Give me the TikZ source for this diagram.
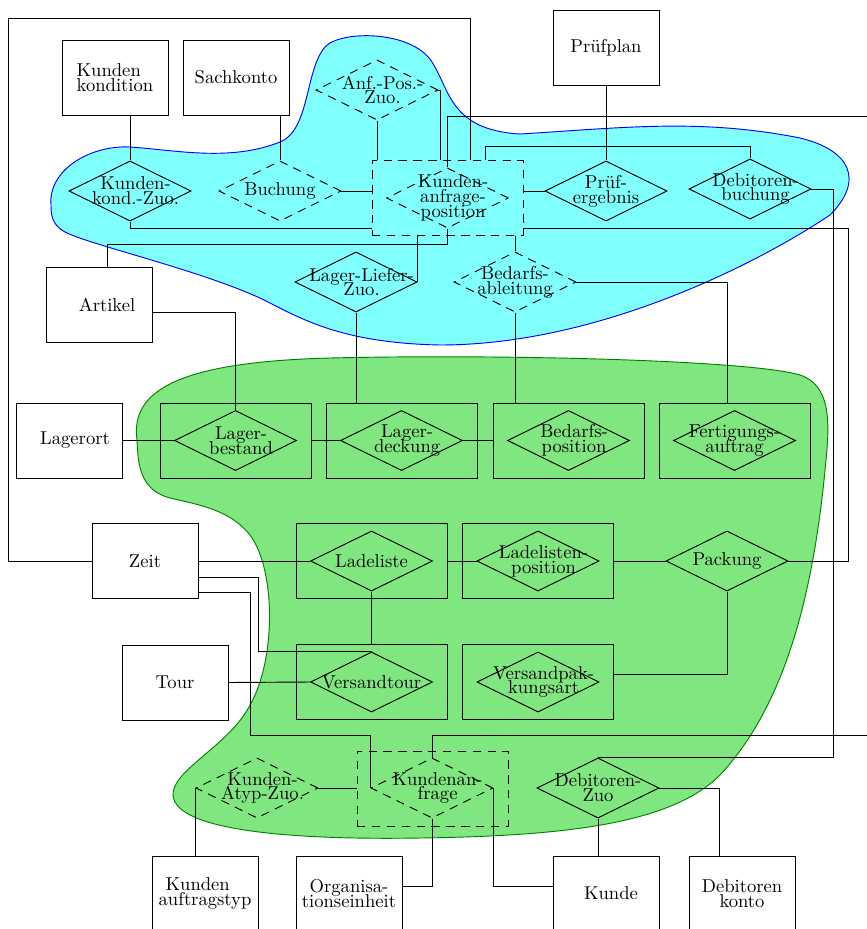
\documentclass[tikz,border=0pt]{standalone}
\usetikzlibrary{shapes.geometric,calc}
\definecolor{blobcyan}{RGB}{128,255,255}
\definecolor{blobgreen}{RGB}{128,230,128}
\definecolor{edgegreen}{RGB}{0,128,0}
\begin{document}
\lineskiplimit=-50pt\relax
\begin{tikzpicture}[x=0.5376pt,y=-0.5376pt,line width=0.5pt,
  every node/.style={font=\fontsize{10}{8}\selectfont},
  ent/.style={draw,minimum width=57pt,minimum height=40.3pt,inner sep=0pt,align=center},
  aggbox/.style={draw,minimum width=81.2pt,minimum height=40.3pt,inner sep=0pt},
  rel/.style={draw,diamond,minimum width=65.6pt,minimum height=32.3pt,inner sep=0pt},
  dtext/.style={align=center,inner sep=0pt},
  dtextm/.style={align=center,inner sep=0pt,xshift=3pt},
  dsh/.style={dash pattern=on 4.5pt off 3.5pt},
  blob/.style={line width=0.5pt}]
\useasboundingbox (0,0) rectangle (866,929);

% cluster areas
\filldraw[fill=blobcyan,draw=blue,blob]
  (51,205) .. controls (48,170) and (90,145) .. (130,147)
  .. controls (175,150) and (230,162) .. (280,142)
  .. controls (310,130) and (305,70) .. (325,47)
  .. controls (340,30) and (412,30) .. (432,62)
  .. controls (450,90) and (450,130) .. (520,134)
  .. controls (620,128) and (700,118) .. (800,138)
  .. controls (850,150) and (865,180) .. (830,215)
  .. controls (760,262) and (600,345) .. (440,345)
  .. controls (340,343) and (300,318) .. (262,299)
  .. controls (200,270) and (90,245) .. (65,232)
  .. controls (52,225) and (51,215) .. (51,205) -- cycle;
\filldraw[fill=blobgreen,draw=edgegreen,blob]
  (137,440) .. controls (130,390) and (180,362) .. (330,358)
  .. controls (500,354) and (750,360) .. (800,375)
  .. controls (830,385) and (830,420) .. (826,460)
  .. controls (815,580) and (790,700) .. (720,775)
  .. controls (670,825) and (560,836) .. (420,838)
  .. controls (300,840) and (175,832) .. (173,795)
  .. controls (172,770) and (230,745) .. (250,705)
  .. controls (276,660) and (276,570) .. (250,535)
  .. controls (230,510) and (200,505) .. (170,498)
  .. controls (140,490) and (138,465) .. (137,440) -- cycle;

% entities
\node[ent,align=left] (kk) at (115,77.5) {Kunden\\kondition};
\node[ent] (sk) at (236,77.5) {Sachkonto};
\node[ent] (pp) at (606,47.5) {Prüfplan};
\node[ent] (art) at (99,304.5) {\hspace*{8.6pt}Artikel};
\node[ent] (lo) at (69,440.5) {\hspace*{6.5pt}Lagerort};
\node[ent] (zeit) at (145,561) {Zeit};
\node[ent] (tour) at (175,682.5) {Tour};
\node[ent,align=left] (kat) at (205,893.5) {\hspace*{3.8pt}Kunden\\auftragstyp};
\node[ent] (oe) at (349,893.5) {Organisa-\\tionseinheit};
\node[ent] (kd) at (606,893.5) {\hspace*{5.4pt}Kunde};
\node[ent] (dk) at (742,893.5) {Debitoren\\konto};

% relationships, upper cluster
\node[rel,label={[dtextm]center:{Kunden-\\kond.-Zuo.}}] (kkz) at (130,191) {};
\node[rel,dsh,label={[dtext]center:{Buchung}}] (buch) at (280,191) {};
\node[rel,dsh,label={[dtextm]center:{Anf.-Pos.-\\Zuo.}}] (apz) at (377,90) {};
\node[aggbox,dsh] (kapb) at (447.5,198) {};
\node[rel,dsh,label={[dtextm]center:{Kunden-\\anfrage-\\position}}] (kapd) at (447.5,198) {};
\node[rel,label={[dtext]center:{Prüf-\\ergebnis}}] (pe) at (606,191) {};
\node[rel,label={[dtextm]center:{Debitoren-\\buchung}}] (dbb) at (750,189) {};
\node[rel,label={[dtextm]center:{Lager-Liefer-\\Zuo.}}] (llz) at (356,282) {};
\node[rel,dsh,label={[dtext]center:{Bedarfs-\\ableitung}}] (bda) at (515,282) {};

% relationships, lower cluster
\node[aggbox] (lbb) at (235.5,440.5) {};
\node[rel,label={[dtextm]center:{Lager-\\bestand}}] (lbd) at (235.5,440.5) {};
\node[aggbox] (ldb) at (401.5,440.5) {};
\node[rel,label={[dtextm]center:{Lager-\\deckung}}] (ldd) at (401.5,440.5) {};
\node[aggbox] (bpb) at (568.5,440.5) {};
\node[rel,label={[dtextm]center:{Bedarfs-\\position}}] (bpd) at (568.5,440.5) {};
\node[aggbox] (fab) at (734.5,440.5) {};
\node[rel,label={[dtext]center:{Fertigungs-\\auftrag}}] (fad) at (734.5,440.5) {};

\node[aggbox] (llb) at (371.5,561) {};
\node[rel,label={[dtext]center:{Ladeliste}}] (lld) at (371.5,561) {};
\node[aggbox] (llpb) at (538,561) {};
\node[rel,label={[dtextm]center:{Ladelisten-\\position}}] (llpd) at (538,561) {};
\node[rel,label={[dtext]center:{Packung}}] (pack) at (727,561) {};

\node[aggbox] (vtb) at (371.5,682) {};
\node[rel,label={[dtext]center:{Versandtour}}] (vtd) at (371.5,682) {};
\node[aggbox] (vpab) at (538,682) {};
\node[rel,label={[dtextm]center:{Versandpak-\\kungsart}}] (vpad) at (538,682) {};

\node[rel,dsh,label={[dtextm]center:{Kunden-\\Atyp-Zuo.}}] (kaz) at (257,788) {};
\node[aggbox,dsh] (kab) at (432.5,788.5) {};
\node[rel,dsh,label={[dtextm]center:{Kundenan-\\frage}}] (kad) at (432,788) {};
\node[rel,label={[dtext]center:{Debitoren-\\Zuo}}] (dz) at (598,788) {};

% loose ends leaving the sheet on the right
\coordinate (outA) at (870,116);
\coordinate (outB) at (870,735);
\coordinate (loopTL) at (8,18);

% connectors
\draw (kk.south -| kkz.north) -- (kkz.north);
\draw (sk.south -| buch.north) -- (buch.north);
\draw (kkz.south) |- ($(kapb.south west)+(0,-7)$);
\draw (buch.east) -- (buch.east -| kapb.west);
\draw (apz.south) -- (apz.south |- kapb.north);
\draw (apz.east) -| ($(kapb.north)+(-7.5,0)$);
\draw (zeit.west) -| (loopTL) -| ($(kapb.north)+(22.5,0)$);
\draw (kapd.north) |- (outA);
\draw ($(kapb.north)+(37.5,0)$) -- ++(0,-14) -| (dbb.north);
\draw (pp.south) -- (pe.north);
\draw (pe.west) -- (pe.west -| kapb.east);
\draw (dbb.east) -- ++(22,0) |- (dz.north);
\draw (pack.east) -- ++(60,0) |- ($(kapb.south east)+(0,-7)$);
\draw (kapd.south) -- ++(0,16) -| ($(art.north)+(8,0)$);
\draw (llz.east) -- (llz.east |- kapb.south);
\draw (bda.north) -- (bda.north |- kapb.south);
\draw (llz.south) -- (llz.south |- ldb.north);
\draw (bda.south) -- (bda.south |- bpb.north);
\draw (bda.east) -| ($(fab.north)+(-7.5,0)$);
\draw ($(art.east)+(0,7.5)$) -| (lbd.north);
\draw (lo.east) -- (lbd.west);
\draw (lbb.east) -- (ldd.west);
\draw (ldd.east) -- (bpb.west);
\draw (zeit.east) -- (lld.west);
\draw ($(zeit.east)+(0,16)$) -- ++(60,0) |- (vtd.north);
\draw ($(zeit.east)+(0,31)$) -- ++(52,0) -- ++(0,143) -| (kad.west);
\draw (llb.east) -- (llpd.west);
\draw (llpb.east) -- (pack.west);
\draw (lld.south) -- (vtb.north);
\draw (tour.east) -- (vtd.west);
\draw (pack.south) |- ($(vpab.east)+(0,-8)$);
\draw (kad.north) |- (outB);
\draw (kaz.west) -- (kaz.west |- kat.north);
\draw (kaz.east) -- (kaz.east -| kab.west);
\draw (kad.south) |- ($(oe.east)+(0,-7.5)$);
\draw (kad.east) |- ($(kd.west)+(0,-7.5)$);
\draw (dz.south) -- (dz.south |- kd.north);
\draw (dz.east) -| ($(dk.north)+(-23,0)$);
\end{tikzpicture}
\end{document}
